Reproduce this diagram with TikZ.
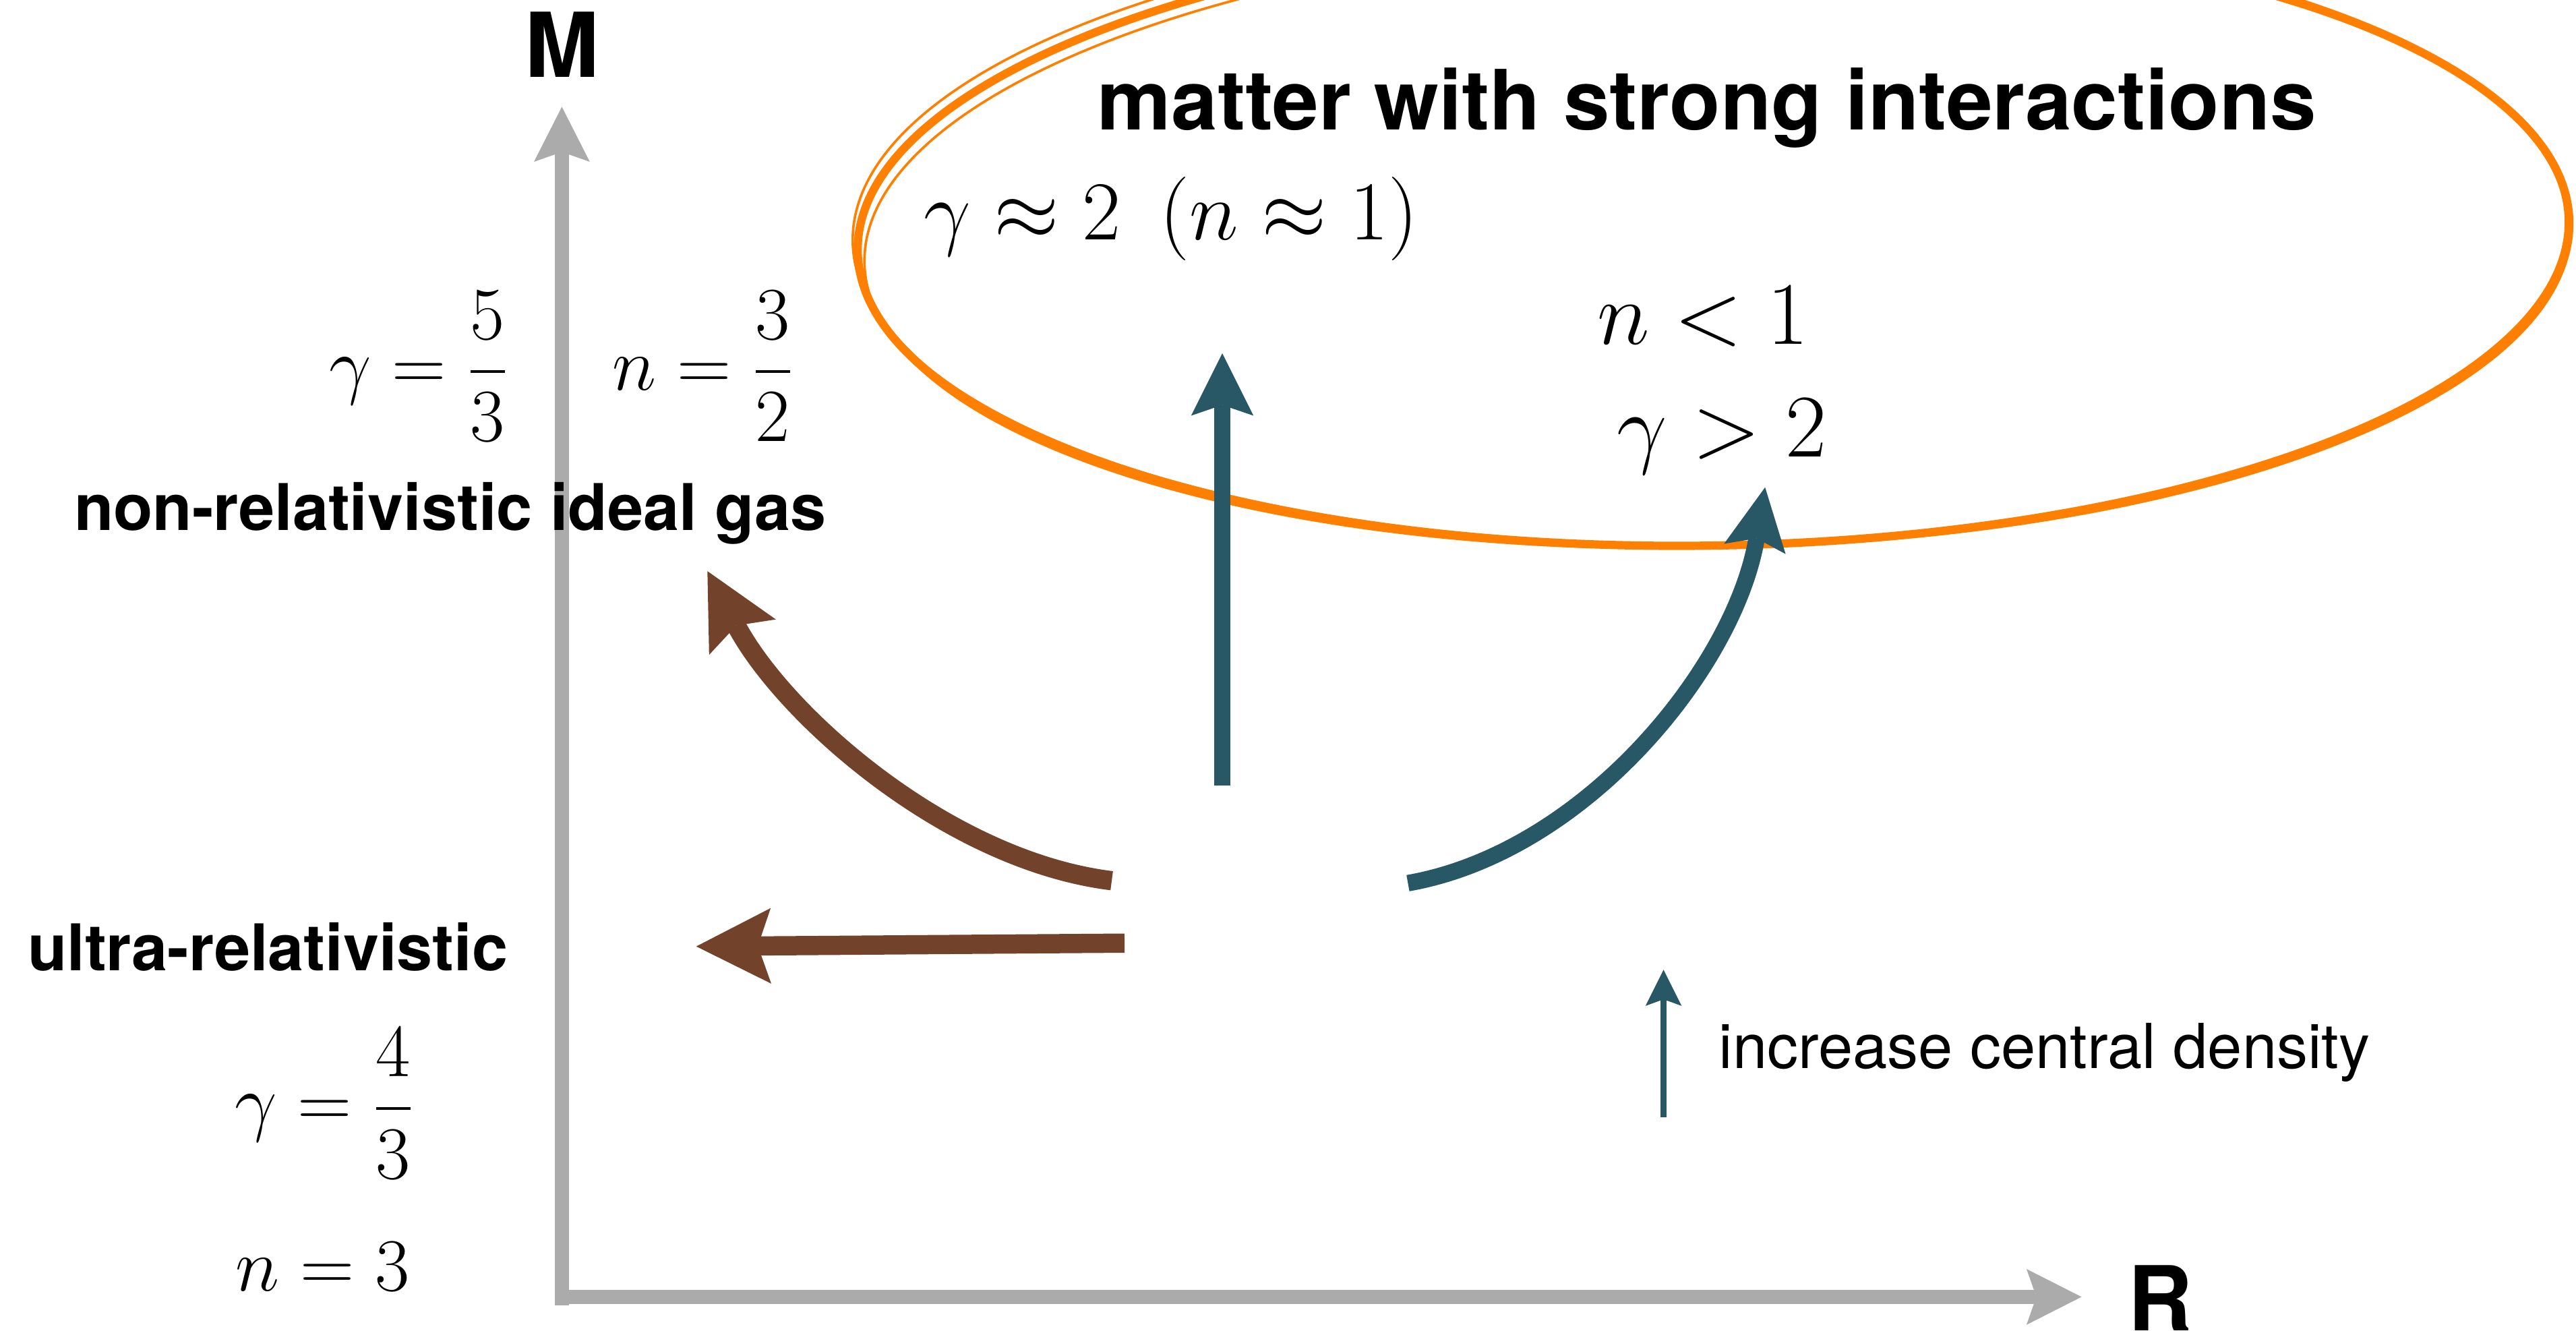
\RequirePackage{fix-cm}
\documentclass[tikz,border=0pt]{standalone}
\usepackage{fontspec}
\setsansfont{TeX Gyre Heros}
\usepackage{amsmath}
\usetikzlibrary{arrows.meta, positioning}
\definecolor{colorEje}{HTML}{ABABAB}
\definecolor{colorMarron}{HTML}{72422B}
\definecolor{colorAzul}{HTML}{285866}
\definecolor{colorNaranja}{HTML}{FF8000}

\begin{document}
\begin{tikzpicture}[
        x=0.02cm, y=-0.02cm,
        eje/.style={draw=colorEje, line width=0.17cm,
            -{Stealth[length=0.67cm, width=0.68cm, inset=0.12cm, line width=0pt]}},
        flechaM/.style={draw=colorMarron, line width=0.234cm,
            -{Stealth[length=0.91cm, width=0.92cm, inset=0.16cm, line width=0pt]}},
        flechaA/.style={draw=colorAzul, line width=0.2cm,
            -{Stealth[length=0.76cm, width=0.76cm, inset=0.13cm, line width=0pt]}},
        flechaLey/.style={draw=colorAzul, line width=0.08cm,
            -{Stealth[length=0.44cm, width=0.44cm, inset=0.08cm, line width=0pt]}},
        elipse/.style={draw=colorNaranja, line cap=round},
        nomEje/.style={inner sep=0pt, font=\sffamily\bfseries\fontsize{31pt}{36pt}\selectfont},
        titulo/.style={inner sep=0pt, font=\sffamily\bfseries\fontsize{28.8pt}{34pt}\selectfont},
        etiq/.style={inner sep=0pt, font=\sffamily\bfseries\fontsize{22.3pt}{27pt}\selectfont},
        leyenda/.style={inner sep=0pt, font=\sffamily\fontsize{21.5pt}{26pt}\selectfont},
        ecM/.style={inner sep=0pt, font=\fontsize{26pt}{31pt}\selectfont},
        ecL/.style={inner sep=0pt, font=\fontsize{29pt}{34pt}\selectfont},
        ecG/.style={inner sep=0pt, font=\fontsize{31pt}{36pt}\selectfont}
    ]
        \useasboundingbox (0,0) rectangle (1568,810);

        % ejes M y R
        \coordinate (origen) at (342,794.5);
        \coordinate (puntaM) at (342,65);
        \coordinate (origenR) at (342,789.3);
        \coordinate (puntaR) at (1267,789.3);
        \draw[eje] (origen) -- (puntaM);
        \draw[eje] (origenR) -- (puntaR);
        \node[nomEje, anchor=base] (ejeM) at (342,46.8) {M};
        \node[nomEje, anchor=base west] (ejeR) at (1295,810) {R};

        % zona de interaccion fuerte
        \coordinate (centroEl) at (1043,144);
        \draw[elipse, line width=0.1cm] (centroEl) ellipse [x radius=521, y radius=188, rotate=1];
        \draw[elipse, line width=0.03cm] ([shift={(1,3)}]centroEl) ellipse [x radius=518, y radius=186, rotate=1.5];
        \draw[elipse, line width=0.03cm] ([shift={(-1,-2)}]centroEl) ellipse [x radius=523, y radius=191, rotate=0.5];
        \node[titulo, anchor=base] (materia) at (1039,78.9) {matter with strong interactions};

        % textos
        \node[ecM, anchor=base west] (gam53) at (200,237.4) {$\displaystyle\gamma = \frac{5}{3}$};
        \node[ecM, anchor=base west] (n32) at (372.5,237.4) {$\displaystyle n = \frac{3}{2}$};
        \node[etiq, anchor=base] (noRel) at (274,322.6) {non-relativistic ideal gas};
        \node[etiq, anchor=base] (ultraRel) at (163,590.8) {ultra-relativistic};
        \node[ecM, anchor=base west] (gam43) at (142.5,686) {$\displaystyle\gamma = \frac{4}{3}$};
        \node[ecM, anchor=base west] (n3) at (143,785.7) {$n = 3$};
        \node[ecL, anchor=base west] (gam2) at (562,146) {$\gamma \approx 2\ \,(n \approx 1)$};
        \node[ecG, anchor=base west] (nMenor) at (972,209.6) {$n < 1$};
        \node[ecG, anchor=base west] (gamMayor) at (984,278) {$\gamma > 2$};

        % flechas
        \coordinate (mRectoA) at (684.5,574);
        \coordinate (mRectoB) at (423.8,576);
        \coordinate (mCurvaA) at (676.7,536);
        \coordinate (mCurvaB) at (430.6,347.6);
        \coordinate (aRectoA) at (744,478);
        \coordinate (aRectoB) at (744,215);
        \coordinate (aCurvaA) at (857,537.5);
        \coordinate (aCurvaB) at (1074.4,296.6);
        \draw[flechaM] (mRectoA) -- (mRectoB);
        \draw[flechaM] (mCurvaA) .. controls +(-99.3,-12.2) and +(46.9,88.3) .. (mCurvaB);
        \draw[flechaA] (aRectoA) -- (aRectoB);
        \draw[flechaA] (aCurvaA) .. controls +(108.4,-19.1) and +(-18.1,108.5) .. (aCurvaB);

        % leyenda
        \coordinate (leyA) at (1012.6,680);
        \coordinate (leyB) at (1012.6,590.2);
        \draw[flechaLey] (leyA) -- (leyB);
        \node[leyenda, anchor=base west] (densidad) at (1046,650.3) {increase central density};
    \end{tikzpicture}
\end{document}
